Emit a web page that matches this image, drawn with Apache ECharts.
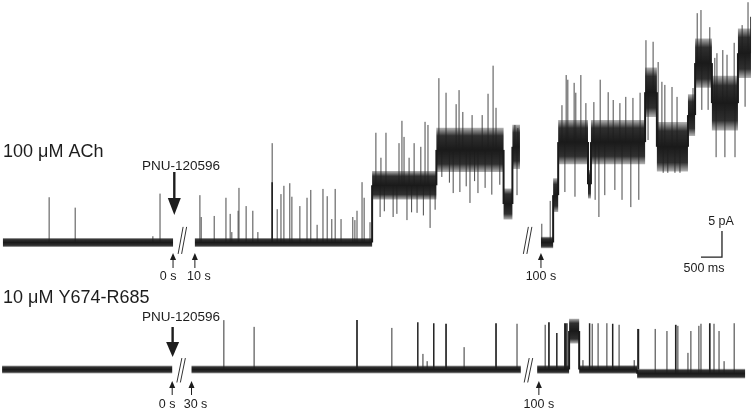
<!DOCTYPE html>
<html><head><meta charset="utf-8">
<script src="https://cdn.jsdelivr.net/npm/echarts@6/dist/echarts.min.js"></script>
<style>html,body{margin:0;padding:0;background:#fff}#c{width:752px;height:413px}</style>
</head><body><div id="c"></div>
<script>
// ---- DATA (display time in s, current in pA relative to closed baseline) ----
// levels: [tStart, tEnd, level pA, noise half-width pA]
const topLevels = [
  [0.07, 4.12, 0, 0.7],
  [4.64, 8.86, 0, 0.7],
  [8.86, 10.39, 11.0, 2.2],
  [10.39, 11.99, 17.8, 3.4],
  [11.99, 12.20, 7.4, 2.4],
  [12.20, 12.38, 18.4, 3.4],
  [12.88, 13.17, 0, 0.9],
  [13.17, 13.29, 9.1, 2.6],
  [13.29, 14.00, 19.3, 3.4],
  [14.00, 14.07, 11.2, 2.2],
  [14.07, 15.36, 19.3, 3.4],
  [15.36, 15.64, 28.9, 3.8],
  [15.64, 16.38, 18.4, 3.8],
  [16.38, 16.55, 24.5, 3.2],
  [16.55, 16.95, 34.5, 3.8],
  [16.95, 17.57, 26.8, 4.2],
  [17.57, 17.88, 36.4, 3.8]
];
// spikes: [time s, peak pA, burst duration s]
const topSpikes = [
  [1.17, 8.7, 0], [1.79, 6.7, 0], [3.64, 1.2, 0], [3.81, 9.4, 0],
  [4.76, 9.1, 0], [4.79, 4.9, 0], [5.10, 5.1, 0], [5.38, 8.6, 0], [5.48, 5.5, 0], [5.52, 2.0, 0],
  [5.67, 6.1, 0], [5.69, 10.5, 0], [5.86, 7.0, 0], [6.02, 6.1, 0], [6.14, 2.0, 0], [6.48, 19.1, 0],
  [6.46, 11.6, 0.04], [6.60, 6.4, 0], [6.69, 9.3, 0], [6.76, 10.9, 0], [6.90, 11.4, 0], [6.95, 8.8, 0],
  [7.14, 7.0, 0], [7.31, 8.6, 0], [7.40, 10.1, 0], [7.55, 3.4, 0], [7.69, 10.3, 0], [7.79, 8.9, 0],
  [7.90, 4.5, 0], [7.98, 10.3, 0], [8.12, 4.5, 0], [8.40, 4.9, 0], [8.45, 4.3, 0], [8.50, 6.1, 0],
  [8.62, 11.6, 0], [8.67, 8.6, 0], [8.81, 3.9, 0],
  [8.95, 21.1, 0], [9.07, 16.3, 0], [9.19, 21.1, 0], [9.50, 19.1, 0], [9.57, 23.4, 0], [9.62, 20.3, 0],
  [9.74, 16.3, 0], [9.86, 19.1, 0], [10.02, 18.4, 0], [10.12, 23.2, 0], [10.19, 22.6, 0],
  [9.05, 4.9, 0], [9.36, 4.9, 0], [9.69, 4.3, 0], [9.93, 5.7, 0], [10.24, 2.8, 0], [10.36, 6.3, 0],
  [9.15, 6.0, 0], [9.45, 5.5, 0], [9.80, 5.8, 0], [10.08, 5.2, 0],
  [10.45, 31.6, 0], [10.62, 28.8, 0], [10.86, 26.6, 0], [10.93, 29.3, 0], [11.02, 25.1, 0], [11.24, 24.5, 0],
  [11.48, 24.5, 0], [11.62, 28.6, 0], [11.74, 34.0, 0], [11.81, 25.9, 0],
  [10.52, 12.6, 0], [10.79, 9.5, 0], [10.95, 9.7, 0], [11.19, 7.6, 0], [11.38, 9.5, 0], [11.71, 9.2, 0], [11.90, 11.1, 0],
  [10.70, 11.5, 0], [11.10, 10.8, 0], [11.30, 11.8, 0], [11.55, 10.5, 0],
  [12.26, 22.6, 0], [12.33, 22.0, 0], [12.31, 9.1, 0],
  [12.90, 3.6, 0], [13.10, 8.0, 0],
  [13.38, 26.4, 0], [13.48, 32.2, 0], [13.52, 31.3, 0], [13.67, 30.7, 0], [13.71, 28.8, 0], [13.83, 32.2, 0],
  [13.95, 26.8, 0], [14.14, 27.0, 0], [14.29, 31.3, 0], [14.48, 28.9, 0], [14.60, 27.4, 0], [14.76, 26.8, 0],
  [14.90, 28.0, 0], [15.07, 27.8, 0], [15.24, 28.8, 0],
  [13.45, 9.7, 0], [13.69, 8.8, 0], [14.17, 8.2, 0], [14.26, 4.9, 0], [14.40, 9.1, 0], [14.64, 10.1, 0],
  [14.81, 8.2, 0], [15.02, 6.8, 0], [15.21, 8.2, 0],
  [15.38, 38.9, 0], [15.55, 38.6, 0], [15.43, 19.7, 0],
  [15.67, 34.7, 0], [15.76, 30.9, 0], [15.83, 30.3, 0], [16.00, 29.9, 0], [16.12, 28.0, 0],
  [15.79, 13.4, 0], [15.90, 13.4, 0], [16.07, 13.4, 0], [16.19, 13.4, 0],
  [16.50, 29.7, 0],
  [16.60, 44.1, 0], [16.69, 44.7, 0], [16.90, 41.4, 0], [16.71, 25.5, 0], [16.86, 25.5, 0],
  [17.02, 35.5, 0], [17.07, 36.4, 0], [17.21, 37.0, 0], [17.31, 36.1, 0], [17.48, 38.4, 0],
  [17.05, 16.4, 0], [17.26, 16.4, 0], [17.50, 16.4, 0],
  [17.67, 41.8, 0], [17.81, 46.2, 0], [17.87, 43.4, 0], [17.74, 26.1, 0]
];
const botLevels = [
  [0.05, 4.10, 0, 0.6],
  [4.56, 12.40, 0, 0.6],
  [12.79, 13.55, 0, 0.65],
  [13.55, 13.79, 7.4, 1.9],
  [13.79, 15.17, 0, 0.65],
  [15.17, 17.74, -0.8, 0.75]
];
const botSpikes = [
  [5.33, 9.5, 0], [6.05, 8.2, 0], [8.48, 9.5, 0.04], [9.33, 8.0, 0], [9.93, 9.1, 0.03], [10.07, 3.0, 0],
  [10.17, 1.6, 0], [10.31, 8.9, 0.03], [10.60, 8.8, 0.04], [11.05, 4.3, 0], [11.79, 8.9, 0.04], [12.31, 8.8, 0],
  [12.98, 8.6, 0], [13.05, 9.1, 0.04], [13.24, 7.0, 0.02], [13.43, 8.9, 0.05], [13.48, 8.9, 0.03], [13.88, 1.8, 0],
  [14.02, 8.9, 0.03], [14.10, 8.8, 0], [14.24, 8.9, 0], [14.45, 8.9, 0], [14.57, 8.8, 0.03], [14.74, 8.6, 0],
  [15.10, 1.8, 0], [15.17, 7.8, 0.05], [15.60, 7.8, 0], [15.88, 7.4, 0], [16.07, 8.6, 0.04], [16.14, 8.4, 0],
  [16.38, 3.2, 0], [16.45, 7.4, 0], [16.64, 8.4, 0], [16.69, 8.8, 0], [16.88, 8.9, 0.04], [17.00, 8.8, 0],
  [17.12, 7.4, 0], [17.24, 1.6, 0], [17.48, 8.9, 0]
];
// time markers under each trace
const topMarkTimes = [4.12, 4.64, 12.88];
const topMarkLabels = ['0 s', '10 s', '100 s'];
const botMarkTimes = [4.10, 4.56, 12.83];
const botMarkLabels = ['0 s', '30 s', '100 s'];
const topBreaks = [4.36, 12.58];
const botBreaks = [4.33, 12.60];
const drugTimes = [4.15, 4.11];
const drugLabel = 'PNU-120596';
const traceTitles = ['100 \u03bcM ACh', '10 \u03bcM Y674-R685'];
const scaleBarTime = 0.5;   // s
const scaleBarCurrent = 5;  // pA
const scaleBarLabels = ['5 pA', '500 ms'];

// ---- RENDERING ----
const FONT = '"Liberation Sans", Arial, Helvetica, sans-serif';
const INK = '#1d1d1d';
const TMAX = 752 / 42;
const chart = echarts.init(document.getElementById('c'), null, {renderer: 'canvas'});

function levelAt(levels, t) {
  for (const L of levels) if (t >= L[0] - 1e-9 && t <= L[1] + 1e-9) return L[2];
  return 0;
}
const bandFill = new echarts.graphic.LinearGradient(0, 0, 0, 1, [
  {offset: 0, color: 'rgba(40,40,40,0.35)'},
  {offset: 0.18, color: 'rgba(30,30,30,0.92)'},
  {offset: 0.5, color: '#1a1a1a'},
  {offset: 0.82, color: 'rgba(30,30,30,0.92)'},
  {offset: 1, color: 'rgba(40,40,40,0.35)'}
]);
function bandItem(params, api) {
  const t0 = api.value(0), t1 = api.value(1), c = api.value(2), h = api.value(3) * 1.25;
  const p0 = api.coord([t0, c + h]), p1 = api.coord([t1, c - h]);
  return {type: 'rect', shape: {x: p0[0], y: p0[1], width: p1[0] - p0[0], height: Math.max(1, p1[1] - p0[1])},
    style: {fill: bandFill}};
}
function spikeItem(color) {
  return function (params, api) {
    const t = api.value(0), b = api.value(1), p = api.value(2), d = api.value(3);
    const a = api.coord([t, b]), c = api.coord([t + d, p]);
    if (d > 0) {
      return {type: 'rect', shape: {x: a[0], y: Math.min(a[1], c[1]), width: Math.max(1.5, c[0] - a[0]), height: Math.abs(c[1] - a[1])},
        style: {fill: '#222'}};
    }
    return {type: 'line', shape: {x1: a[0], y1: a[1], x2: a[0], y2: c[1]}, style: {stroke: color, lineWidth: 1}};
  };
}
function connItem(params, api) {
  const t = api.value(0), a = api.coord([t, api.value(1)]), b = api.coord([t, api.value(2)]);
  return {type: 'line', shape: {x1: a[0], y1: a[1], x2: b[0], y2: b[1]}, style: {stroke: '#1a1a1a', lineWidth: 2}};
}
function breakItem(lo, hi) {
  return function (params, api) {
    const t = api.value(0);
    const a = api.coord([t, lo]), b = api.coord([t, hi]);
    const dx = 2.5, sl = 2.5;
    return {type: 'group', children: [
      {type: 'line', shape: {x1: a[0] - dx - sl, y1: a[1], x2: b[0] - dx + sl, y2: b[1]}, style: {stroke: '#333', lineWidth: 1}},
      {type: 'line', shape: {x1: a[0] + dx - sl - 1.5, y1: a[1], x2: b[0] + dx + sl - 1.5, y2: b[1]}, style: {stroke: '#333', lineWidth: 1}}
    ]};
  };
}
function connectors(levels) {
  const out = [];
  for (let i = 0; i + 1 < levels.length; i++) {
    if (Math.abs(levels[i][1] - levels[i + 1][0]) < 1e-9) out.push([levels[i][1], levels[i][2], levels[i + 1][2]]);
  }
  return out;
}
function traceSeries(levels, spikes, gi, spikeColor) {
  const base = {type: 'custom', xAxisIndex: gi, yAxisIndex: gi, silent: true, animation: false, clip: false};
  return [
    Object.assign({}, base, {data: spikes.map(s => [s[0], levelAt(levels, s[0]), s[1], s[2] || 0]), encode: {x: [0], y: [2]}, renderItem: spikeItem(spikeColor)}),
    Object.assign({}, base, {data: levels, encode: {x: [0, 1], y: [2]}, renderItem: bandItem}),
    Object.assign({}, base, {data: connectors(levels), encode: {x: [0], y: [1]}, renderItem: connItem})
  ];
}

const series = [].concat(
  traceSeries(topLevels, topSpikes, 0, '#4a4a4a'),
  traceSeries(botLevels, botSpikes, 1, '#333'),
  [
    {type: 'custom', xAxisIndex: 0, yAxisIndex: 0, silent: true, animation: false, clip: false,
      data: topBreaks.map(t => [t, 0]), renderItem: breakItem(-2.2, 3.0)},
    {type: 'custom', xAxisIndex: 1, yAxisIndex: 1, silent: true, animation: false, clip: false,
      data: botBreaks.map(t => [t, 0]), renderItem: breakItem(-2.5, 2.2)},
    {type: 'custom', xAxisIndex: 0, yAxisIndex: 0, silent: true, animation: false, clip: false,
      data: [[scaleBarTime, scaleBarCurrent]],
      renderItem: function (params, api) {
        const tEnd = 17.19, v0 = -2.8;
        const p0 = api.coord([tEnd, v0 + api.value(1)]), p1 = api.coord([tEnd, v0]), p2 = api.coord([tEnd - api.value(0), v0]);
        return {type: 'polyline', shape: {points: [p0, p1, p2]}, style: {stroke: '#222', lineWidth: 1.3, fill: null}};
      }}
  ]
);

chart.setOption({
  animation: false,
  grid: [
    {left: 0, right: 0, top: 0, height: 300},
    {left: 0, right: 0, top: 300, height: 113}
  ],
  xAxis: [
    {type: 'value', gridIndex: 0, min: 0, max: TMAX, show: false},
    {type: 'value', gridIndex: 1, min: 0, max: TMAX, show: false}
  ],
  yAxis: [
    {type: 'value', gridIndex: 0, min: -11.06, max: 46.63, show: false},
    {type: 'value', gridIndex: 1, min: -8.37, max: 13.37, show: false}
  ],
  series: series
});

// annotations tied to data times
function xp(gi, t) { return chart.convertToPixel({xAxisIndex: gi}, t); }
function txt(x, y, s, size, align) {
  return {type: 'text', x: x, y: y, silent: true,
    style: {text: s, font: size + 'px ' + FONT, fill: INK, align: align || 'left', verticalAlign: 'middle',
      textAlign: align || 'left', textVerticalAlign: 'middle'}};
}
function upArrow(x, yTip, yEnd) {
  return [
    {type: 'line', silent: true, shape: {x1: x, y1: yTip + 4, x2: x, y2: yEnd}, style: {stroke: INK, lineWidth: 1}},
    {type: 'polygon', silent: true, shape: {points: [[x, yTip], [x - 3, yTip + 7], [x + 3, yTip + 7]]}, style: {fill: INK}}
  ];
}
function bigArrow(x, yTop, yHead, yTip) {
  return [
    {type: 'rect', silent: true, shape: {x: x - 1.2, y: yTop, width: 2.4, height: yHead - yTop + 1}, style: {fill: INK}},
    {type: 'polygon', silent: true, shape: {points: [[x - 6.5, yHead], [x + 6.5, yHead], [x, yTip]]}, style: {fill: INK}}
  ];
}
const g = [];
g.push(txt(3, 152, traceTitles[0], 18));
g.push(txt(3, 298, traceTitles[1], 18));
const dx = [-5, 4, 0];
topMarkTimes.forEach((t, i) => {
  const x = xp(0, t);
  g.push(...upArrow(x, 253, 268));
  g.push(txt(x + dx[i], 277, topMarkLabels[i], 12.5, 'center'));
});
botMarkTimes.forEach((t, i) => {
  const x = xp(1, t);
  g.push(...upArrow(x, 381, 395));
  g.push(txt(x + dx[i], 405, botMarkLabels[i], 12.5, 'center'));
});
const dA = xp(0, drugTimes[0]), dB = xp(1, drugTimes[1]);
g.push(txt(181, 166, drugLabel, 13.5, 'center'));
g.push(...bigArrow(dA, 172, 198, 215));
g.push(txt(181, 317, drugLabel, 13.5, 'center'));
g.push(...bigArrow(dB, 327, 342, 357));
g.push(txt(721, 222, scaleBarLabels[0], 12.5, 'center'));
g.push(txt(704, 269, scaleBarLabels[1], 12.5, 'center'));
chart.setOption({graphic: g});
</script>
</body></html>
